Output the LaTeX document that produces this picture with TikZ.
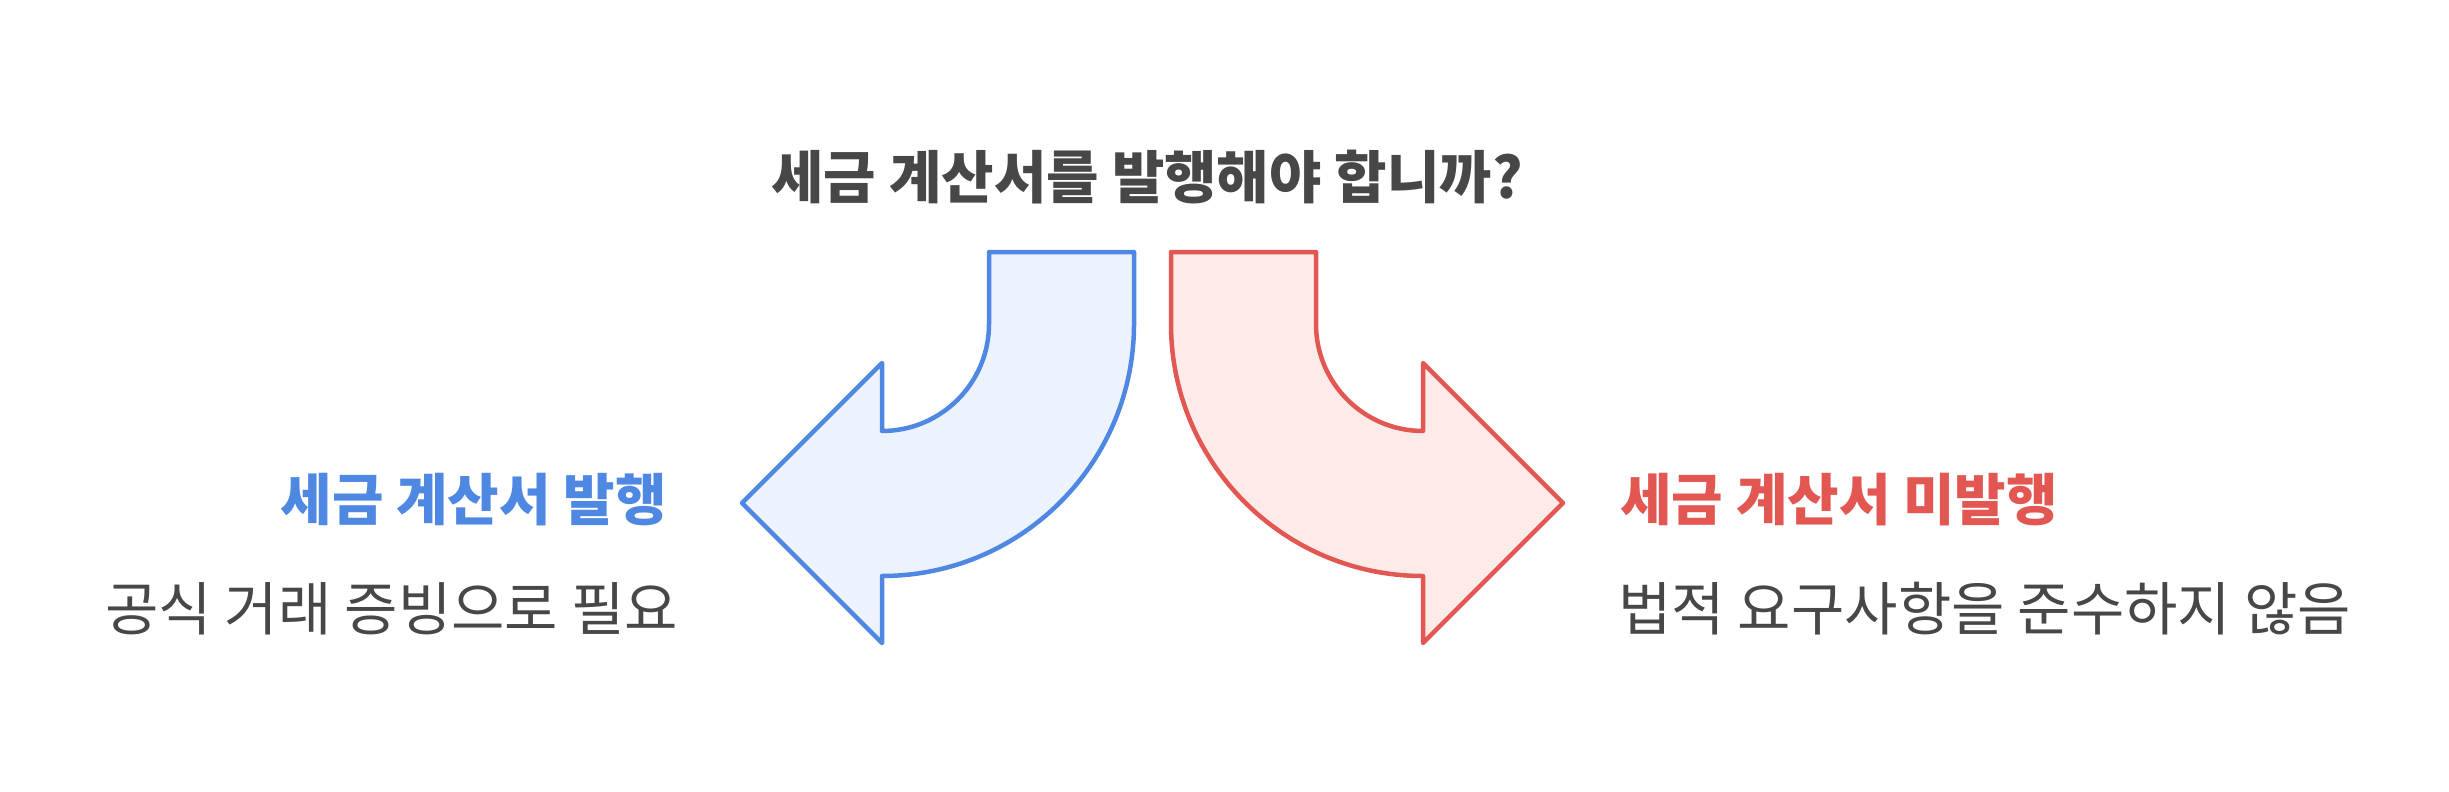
\documentclass[tikz,border=0pt]{standalone}
\usepackage{fontspec}
\setmainfont{Noto Sans CJK KR}
\definecolor{bluedraw}{HTML}{4F88E3}
\definecolor{bluefill}{HTML}{ECF2FE}
\definecolor{reddraw}{HTML}{E25752}
\definecolor{redfill}{HTML}{FDEBEA}
\definecolor{textgray}{HTML}{474747}
\tikzset{
issue/.style={draw=bluedraw, fill=bluefill, line width=4.5pt, line join=round},
noissue/.style={draw=reddraw, fill=redfill, line width=4.5pt, line join=round},
title/.style={font=\fontsize{57}{60}\selectfont\bfseries, text=textgray, inner sep=0pt},
head/.style={font=\fontsize{56}{60}\selectfont\bfseries, inner sep=0pt},
desc/.style={font=\fontsize{58}{62}\selectfont, text=textgray, inner sep=0pt},
}
\begin{document}
\begin{tikzpicture}[x=1pt,y=-1pt]
\useasboundingbox (0,0) rectangle (2449,792);

\node[title](question) at (1147,177) {세금 계산서를 발행해야 합니까?};

% left arrow
\draw[issue] (989,252) -- (1134,252) -- (1134,324)
  .. controls (1134,463.2) and (1021.2,576) .. (882,576)
  -- (882,643) -- (742,503) -- (882,363) -- (882,431)
  .. controls (941.1,431) and (989,383.1) .. (989,324) -- cycle;

% right arrow
\draw[noissue] (1316,252) -- (1171,252) -- (1171,324)
  .. controls (1171,463.2) and (1283.8,576) .. (1423,576)
  -- (1423,643) -- (1563,503) -- (1423,363) -- (1423,431)
  .. controls (1363.9,431) and (1316,383.1) .. (1316,324) -- cycle;

\node[head, text=bluedraw, anchor=east](issue_head) at (667,500) {세금 계산서 발행};
\node[desc, anchor=east](issue_desc) at (678,609) {공식 거래 증빙으로 필요};

\node[head, text=reddraw, anchor=west](noissue_head) at (1620,500) {세금 계산서 미발행};
\node[desc, anchor=west](noissue_desc) at (1618,609) {법적 요구사항을 준수하지 않음};
\end{tikzpicture}
\end{document}
